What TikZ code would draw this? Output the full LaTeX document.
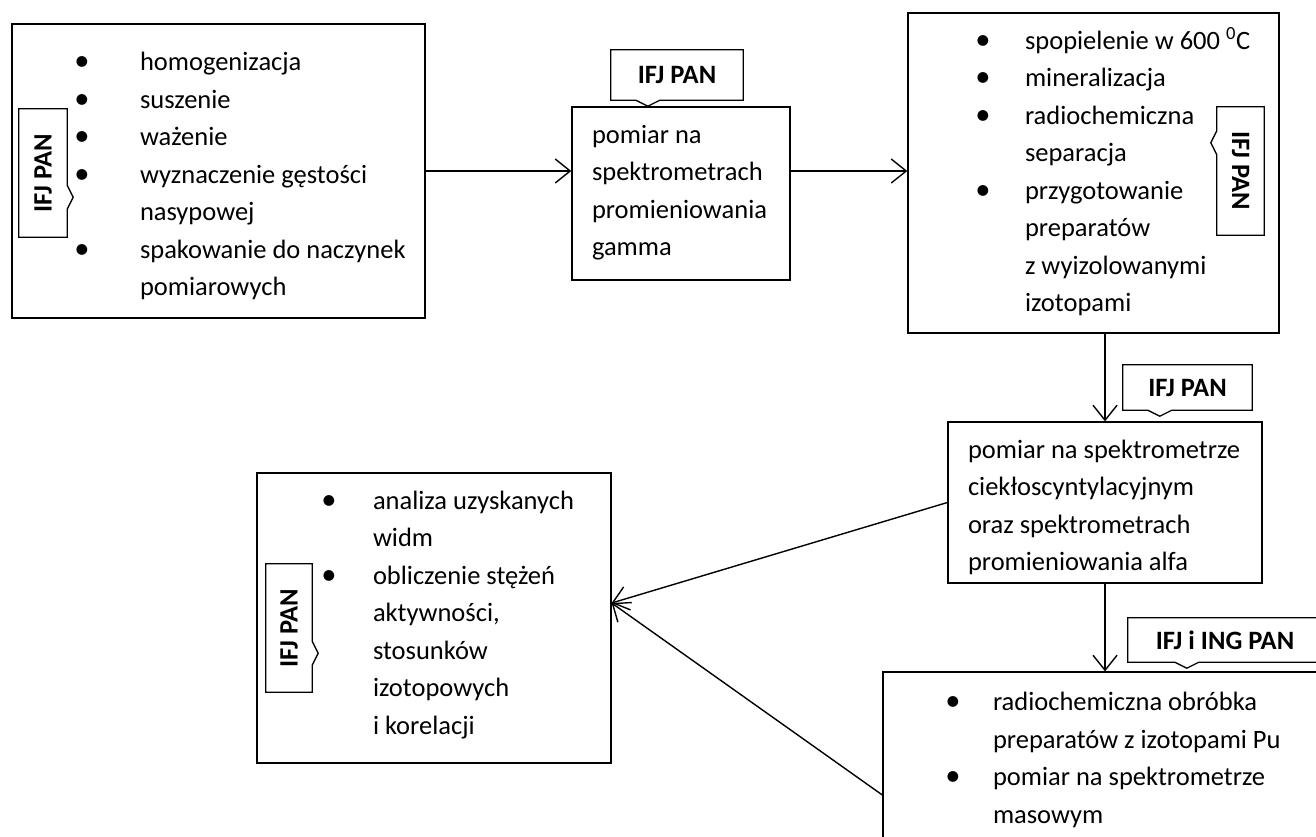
\documentclass[tikz,border=0pt]{standalone}
\usepackage{fontspec}
\setmainfont{Carlito}
\usetikzlibrary{arrows.meta,calc}

% text block of a box: width, height, top gap, left indent, lines
\newcommand\boxbody[5]{\parbox[c][#2][t]{#1}{\parskip=0pt\parindent=0pt%
  \leftskip=#4\relax\rightskip=0pt plus 1fil
  \fontsize{26.5pt}{37.5pt}\selectfont\vspace*{#3}\rule{0pt}{26.5pt}#5}}
% hanging bullet, its centre #1 left of the text
\newcommand\bul[1]{\llap{\makebox[0pt]{\scalebox{1.15}{\textbullet}}\hspace{#1}}}

% outlines of the small tags, notch on the south / east / west side
\newcommand\flagS[2]{\draw[flagline] (#1.south west) -- (#1.north west) -- (#1.north east) -- (#1.south east)
  -- ($(#1.south west)+(#2+12,0)$) -- ($(#1.south west)+(#2,6)$) -- ($(#1.south west)+(#2-12,0)$) -- cycle;}
\newcommand\flagE[2]{\draw[flagline] (#1.south east) -- (#1.south west) -- (#1.north west) -- (#1.north east)
  -- ($(#1.south east)+(0,-#2-12)$) -- ($(#1.south east)+(6,-#2)$) -- ($(#1.south east)+(0,-#2+12)$) -- cycle;}
\newcommand\flagW[2]{\draw[flagline] (#1.north west) -- (#1.north east) -- (#1.south east) -- (#1.south west)
  -- ($(#1.north west)+(0,#2+12)$) -- ($(#1.north west)+(-6,#2)$) -- ($(#1.north west)+(0,#2-12)$) -- cycle;}

\begin{document}
\begin{tikzpicture}[x=1pt,y=-1pt,
  box/.style={draw, line width=1.3pt, inner sep=0pt},
  flag/.style={inner sep=0pt, font=\bfseries\fontsize{26.5pt}{30pt}\selectfont},
  flagline/.style={draw, line width=1.3pt, line join=miter},
  arr/.style={line width=1.4pt, -{Straight Barb[length=15pt,width=24pt]}}]
\useasboundingbox (0,0) rectangle (1316,836);

% process boxes
\node[box] (b1) at (218.5,171) {\boxbody{413pt}{294pt}{20pt}{128pt}{%
  \bul{58pt}homogenizacja\\ \bul{58pt}suszenie\\ \bul{58pt}ważenie\\
  \bul{58pt}wyznaczenie gęstości\\ nasypowej\\
  \bul{58pt}spakowanie do naczynek\\ pomiarowych}};
\node[box] (b2) at (681,193.5) {\boxbody{218pt}{173pt}{9.5pt}{20pt}{%
  pomiar na\\ spektrometrach\\ promieniowania\\ gamma}};
\node[box] (b3) at (1093.5,173) {\boxbody{371pt}{320pt}{9.5pt}{117pt}{%
  \bul{42pt}spopielenie w 600 \textsuperscript{0}C\\ \bul{42pt}mineralizacja\\
  \bul{42pt}radiochemiczna\\ separacja\\ \bul{42pt}przygotowanie\\
  preparatów\\ z wyizolowanymi\\ izotopami}};
\node[box] (b4) at (1105,502.5) {\boxbody{314pt}{161pt}{9.5pt}{20pt}{%
  pomiar na spektrometrze\\ ciekłoscyntylacyjnym\\ oraz spektrometrach\\ promieniowania alfa}};
\node[box] (b5) at (434,618) {\boxbody{354pt}{290pt}{9.5pt}{116pt}{%
  \bul{44pt}analiza uzyskanych\\ widm\\ \bul{44pt}obliczenie stężeń\\
  aktywności,\\ stosunków\\ izotopowych\\ i korelacji}};
\node[box] (b6) at (1106.5,795) {\boxbody{447pt}{246pt}{12pt}{110pt}{%
  \bul{40pt}radiochemiczna obróbka\\ preparatów z izotopami Pu\\
  \bul{40pt}pomiar na spektrometrze\\ masowym}};

% institution tags
\node[flag, minimum width=48pt, minimum height=128pt] (c1) at (43,173) {\rotatebox{90}{IFJ PAN}};
\flagE{c1}{40}
\node[flag, minimum width=132pt, minimum height=50pt] (c2) at (677,75) {IFJ PAN};
\flagS{c2}{37}
\node[flag, minimum width=47pt, minimum height=128pt] (c3) at (1240.5,171) {\rotatebox{-90}{IFJ PAN}};
\flagW{c3}{36}
\node[flag, minimum width=129pt, minimum height=45pt] (c4) at (1187.5,387.5) {IFJ PAN};
\flagS{c4}{37}
\node[flag, minimum width=46pt, minimum height=128pt] (c5) at (289,628) {\rotatebox{90}{IFJ PAN}};
\flagE{c5}{39}
\node[flag, minimum width=194pt, minimum height=44pt] (c6) at (1225,640) {IFJ i ING PAN};
\flagS{c6}{59}

% flow
\draw[arr] (b1.east) -- (b1.east -| b2.west);
\draw[arr] (b1.east -| b2.east) -- (b1.east -| b3.west);
\draw[arr] (b3.south -| b4.north) -- (b4.north);
\draw[arr] (b4.south) -- (b4.south |- b6.north);
\draw[arr] (b4.west) -- ([yshift=15pt]b5.east);
\draw[arr] (b6.west) -- ([yshift=15pt]b5.east);
\end{tikzpicture}
\end{document}
